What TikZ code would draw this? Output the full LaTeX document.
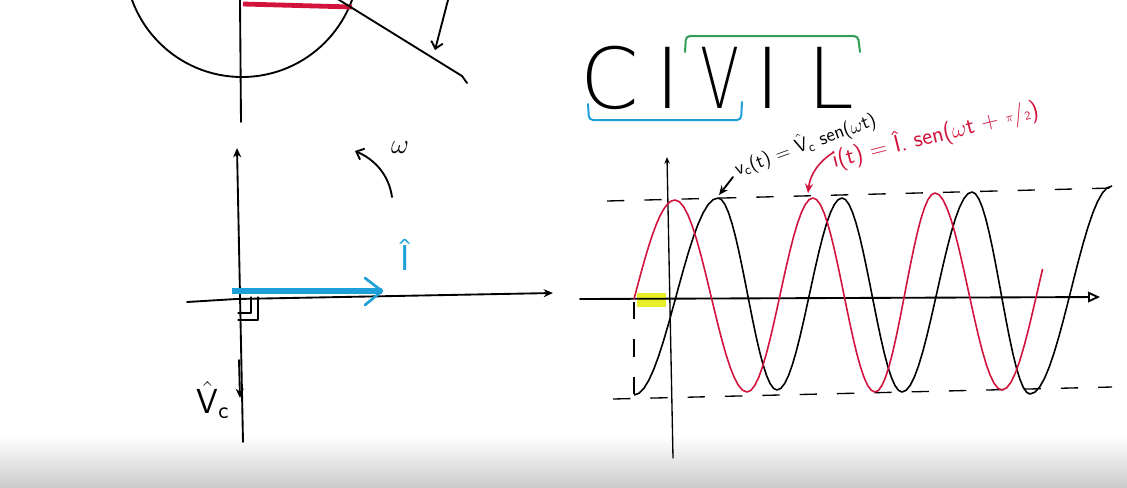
\documentclass[tikz,border=0pt]{standalone}
\usepackage{fontspec}
\usepackage{graphicx}
\IfFontExistsTF{DejaVu Sans ExtraLight}
  {\newfontfamily\thinfont{DejaVu Sans ExtraLight}}
  {\IfFontExistsTF{DejaVuSans-ExtraLight.ttf}
    {\newfontfamily\thinfont{DejaVuSans-ExtraLight.ttf}}
    {\newcommand\thinfont{\sffamily}}}
\newcommand\hand{\sffamily}
\newcommand\ltr[1]{\makebox[0pt][c]{#1}}
\usetikzlibrary{arrows.meta}
\definecolor{pred}{HTML}{D2143C}
\definecolor{pblue}{HTML}{1E9FD8}
\definecolor{pgreen}{HTML}{2E9E55}
\definecolor{pyel}{HTML}{E4EE10}
\tikzset{
  ink/.style={line width=1.4pt, line cap=round, line join=round},
  thinink/.style={line width=1pt, line cap=round, line join=round},
  sig/.style={line width=1.2pt, line join=round},
  guide/.style={line width=1pt, dash pattern=on 13pt off 15pt},
  lbl/.style={inner sep=0pt, font=\hand},
  tip/.style={-{Stealth[length=7pt,width=6pt]}},
  barb/.style={-{Straight Barb[length=5pt,width=9pt]}}
}
\begin{document}
\begin{tikzpicture}[x=0.75pt,y=-0.75pt]
\useasboundingbox (0,0) rectangle (1127,487);
\clip (0,0) rectangle (1127,487);
% bottom grey band
\fill[top color=white, bottom color=black!20] (0,436) rectangle (1127,487);

% ---------- top-left sketch ----------
\draw[ink] (242,-40) circle (117);
\draw[ink] (240,0) -- (241,122);
\draw[pred, line width=3.6pt] (243,4) -- (352,7);
\coordinate (tl1) at (336,-2);
\coordinate (tl2) at (462,76);
\coordinate (tl3) at (467,83);
\draw[ink] (tl1) -- (tl2) -- (tl3);
\coordinate (ta1) at (448,0);
\coordinate (ta2) at (435,50);
\draw[ink, barb] (ta1) -- (ta2);

% ---------- phasor diagram ----------
\coordinate (vb) at (243,442);
\coordinate (vt) at (237,148);
\draw[ink, tip] (vb) -- (vt);
\coordinate (vd1) at (239,360);
\coordinate (vd2) at (240,398);
\draw[ink, tip] (vd1) -- (vd2);
\coordinate (hl) at (187,302);
\coordinate (ho) at (236,299);
\coordinate (hr) at (553,293);
\draw[ink, tip] (hl) -- (ho) -- (hr);
\coordinate (ib) at (232,291);
\coordinate (ie) at (382,291);
\draw[pblue, line width=4.5pt] (ib) -- (ie);
\draw[pblue, line width=2pt, line cap=round, line join=round] (365,278) -- (ie) -- (365,305);
\draw[thinink] (238,313) -- (251,313) -- (251,297);
\draw[thinink] (238,320) -- (258,320) -- (258,297);
\node[lbl, text=pblue, font=\hand\fontsize{27}{27}\selectfont] (Ihat) at (405,255) {Î};
\coordinate (w1) at (392,197);
\coordinate (w2) at (355,151);
\draw[ink, barb] (w1) .. controls (389,176) and (376,160) .. (w2);
\node[lbl, font=\hand\fontsize{20}{20}\selectfont] (omega) at (400,148) {$\omega$};
\node[lbl, font=\hand\fontsize{26}{26}\selectfont] (vc) at (213,400) {$\hat{\mbox{V}}$\textsubscript{c}};

% ---------- CIVIL ----------
\node[inner sep=0pt, anchor=base west, font=\thinfont\fontsize{63}{63}\selectfont] (civil) at (610,108)
  {\ltr{C}\hspace{43.5pt}\ltr{I}\hspace{39pt}\ltr{\scalebox{0.68}[1]{V}}\hspace{36pt}\ltr{I}\hspace{47pt}\ltr{L}};
\draw[pgreen, line width=1.5pt, rounded corners=3pt, line cap=round] (685,52) -- (686,36) -- (858,36) -- (860,52);
\draw[pblue, line width=1.5pt, rounded corners=3pt, line cap=round] (588,104) -- (589,120) -- (741,120) -- (742,102);

% ---------- formulas ----------
\node[lbl, anchor=base west, rotate=20, font=\hand\fontsize{14.5}{14.5}\selectfont] (fv) at (737,176)
  {v\textsubscript{c}(t) = $\hat{\mbox{V}}$\textsubscript{c} sen($\omega$t)};
\node[lbl, anchor=base west, rotate=14, text=pred, font=\hand\fontsize{18}{18}\selectfont] (fi) at (834,168)
  {i(t) = Î. sen($\omega$t + {\small\raisebox{0.5ex}{$\pi$}}/{\small 2})};
\coordinate (fvs) at (733,177);
\coordinate (fvt) at (719,195);
\draw[ink, tip] (fvs) -- (fvt);
\coordinate (fis) at (834,152);
\coordinate (fit) at (808,193);
\draw[pred, line width=1.2pt, tip] (fis) .. controls (818,162) and (810,175) .. (fit);

% ---------- time graph ----------
\draw[pyel, line width=10pt, opacity=0.9] (637,300) -- (666,300);
\draw[guide] (607,201) -- (1112,188);
\draw[guide] (613,399) -- (1112,387);
\draw[guide] (634,302) -- (634,396);
\coordinate (gl) at (580,299);
\coordinate (gr) at (1100,297);
\draw[ink, -{Triangle[open,length=9pt,width=8pt]}] (gl) -- (gr);
\coordinate (gb) at (673,458);
\coordinate (gt) at (667,157);
\draw[thinink, -{Stealth[length=5pt,width=4pt]}] (gb) -- (gt);

% black v_c(t)
\draw[sig] (634,395)
  \foreach \xa/\ya/\xb/\yb in {634/395/718/198, 718/198/777/390, 777/390/842/198, 842/198/902/392, 902/392/972/192, 972/192/1030/394, 1030/394/1112/186}
  { -- plot[domain=0:1, samples=18, variable=\t] ({\xa+(\xb-\xa)*\t},{(\ya+\yb)/2+(\ya-\yb)/2*cos(180*\t)}) };

% red i(t)
\draw[pred, sig] (634,299)
  -- plot[domain=0:1, samples=12, variable=\t] ({634+41*\t},{299-99*sin(90*\t)})
  \foreach \xa/\ya/\xb/\yb in {675/200/747/392, 747/392/813/198, 813/198/875/392, 875/392/935/193, 935/193/1002/390}
  { -- plot[domain=0:1, samples=18, variable=\t] ({\xa+(\xb-\xa)*\t},{(\ya+\yb)/2+(\ya-\yb)/2*cos(180*\t)}) }
  -- plot[domain=0:0.58, samples=10, variable=\t] ({1002+70*\t},{293+97*cos(180*\t)});
\end{tikzpicture}
\end{document}
